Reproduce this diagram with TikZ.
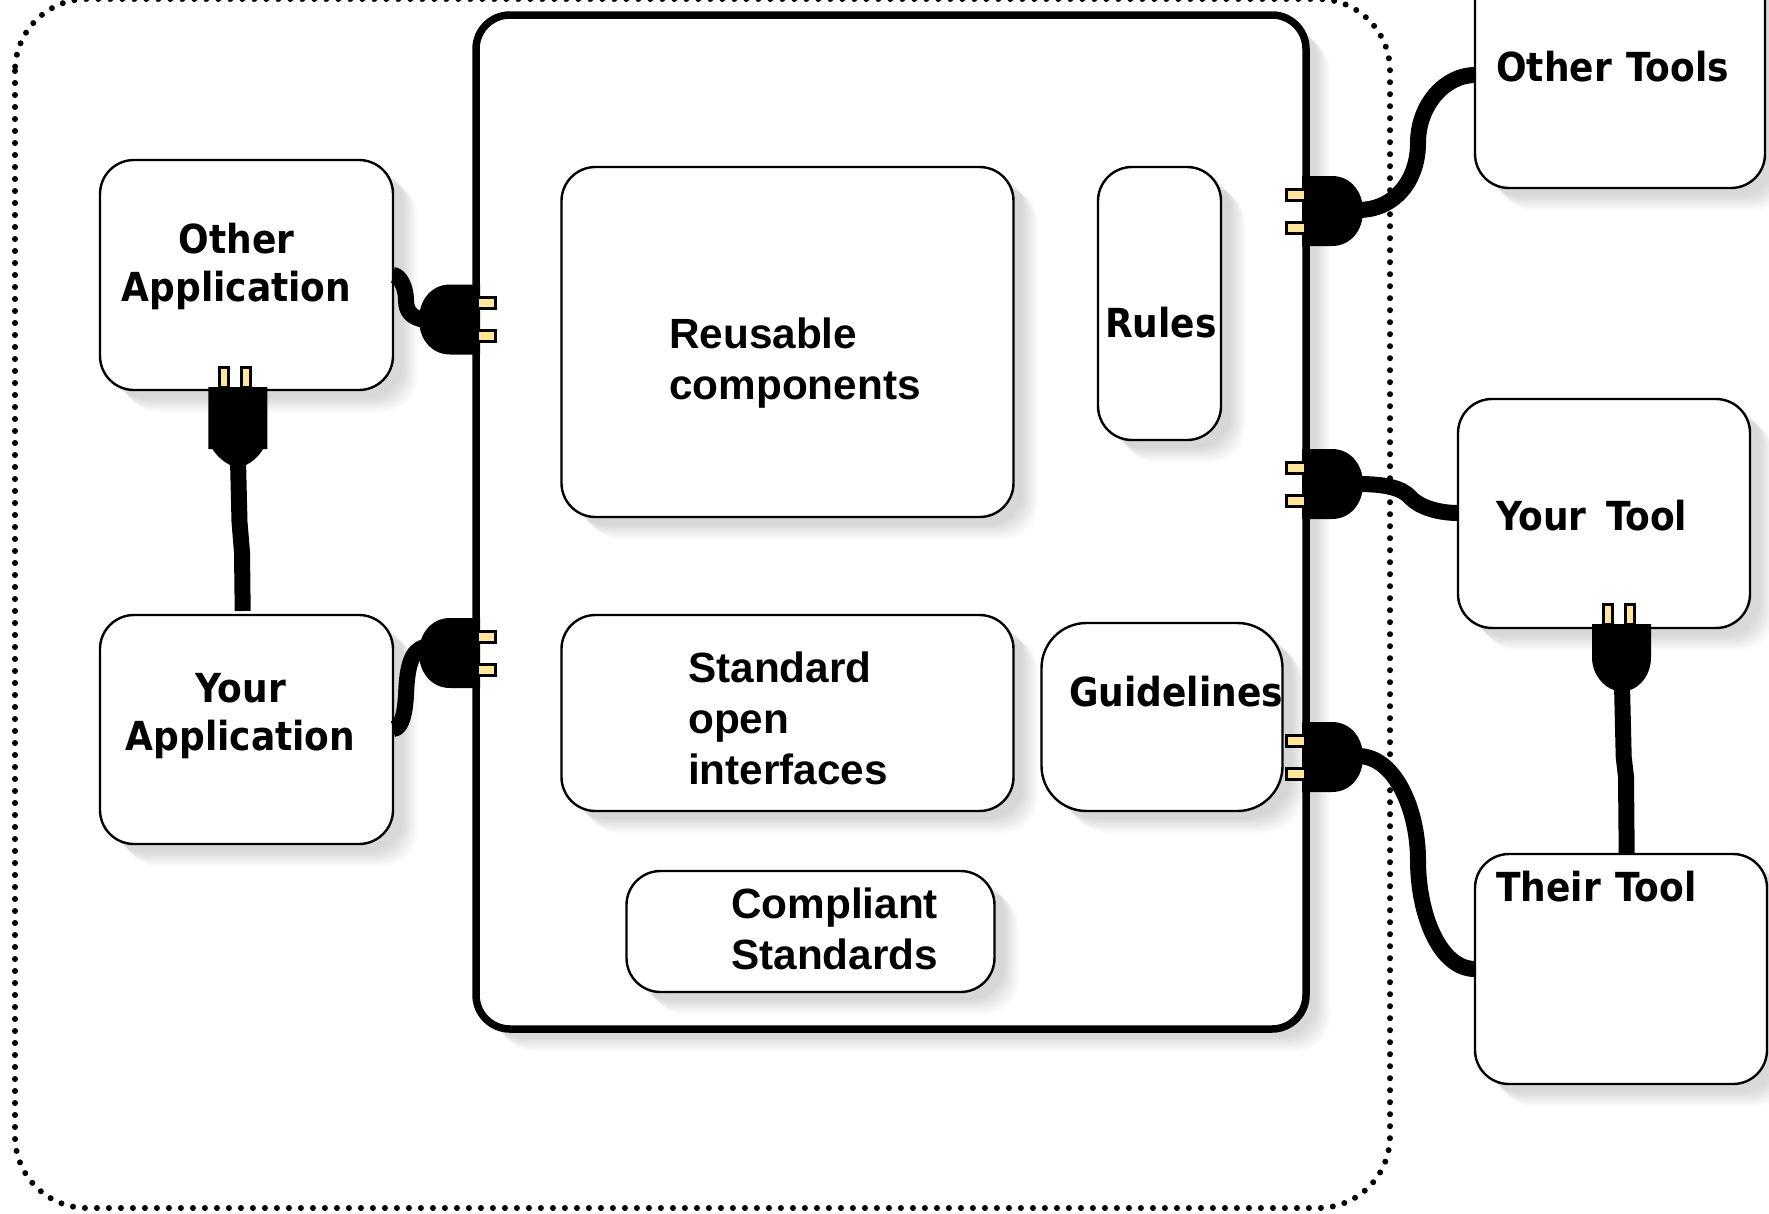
\documentclass[tikz,border=0pt]{standalone}
\usepackage{fontspec}
\setmainfont{Liberation Sans}
\newfontfamily\tahomalike[BoldFont={DejaVu Sans Condensed Bold}]{DejaVu Sans Condensed}
\definecolor{prongc}{HTML}{FFE699}
\tikzset{
  shadowlayer/.style={preaction={fill=black,fill opacity=.02,draw=none,transform canvas={shift={(#1pt,-#1pt+2pt)}}}},
  softshadow/.style={shadowlayer=10,shadowlayer=12,shadowlayer=14,shadowlayer=16,shadowlayer=18,shadowlayer=20,shadowlayer=22,shadowlayer=24},
  cardbox/.style={draw=black,fill=white,line width=2.4pt,rounded corners=34pt,outer sep=0pt,inner sep=0pt,anchor=north west,softshadow},
  cable/.style={draw=black,line width=16pt,line join=round},
  prong/.style={draw=black,fill=prongc,line width=3pt},
  armlabel/.style={font=\fontsize{42.3}{51}\selectfont\bfseries,align=left,anchor=west,inner sep=0pt},
  tahlabel/.style={font=\tahomalike\fontsize{40}{47.5}\selectfont\bfseries,align=center,inner sep=0pt}
}
\newcommand{\sideplug}[3]{% xbase, ycentre, direction(+1 prongs to the right)
  \begin{scope}[shift={(#1,#2)},xscale=#3]
    \fill[black] (2,-35) -- (-28,-35) .. controls (-46,-35) and (-59,-20) .. (-59,0)
      .. controls (-59,20) and (-46,35) .. (-28,35) -- (2,35) -- cycle;
    \filldraw[prong] (-1,-22) rectangle (17.5,-11);
    \filldraw[prong] (-1,11) rectangle (17.5,22);
  \end{scope}}
\begin{document}
\begin{tikzpicture}[x=1pt,y=-1pt]
\useasboundingbox (0,0) rectangle (1769,1213);
% dotted outer boundary
\draw[line width=6pt,line cap=round,dash pattern=on 0pt off 12pt,rounded corners=72pt,black] (15,-1) rectangle (1390,1208);
% nodes
\node[cardbox,minimum width=293pt,minimum height=230pt] (otherapp) at (100,160) {};
\node[cardbox,minimum width=293pt,minimum height=229pt] (yourapp) at (100,615) {};
\node[cardbox,line width=7.5pt,rounded corners=34pt,minimum width=830pt,minimum height=1014pt] (main) at (476,15) {};
\node[cardbox,minimum width=452pt,minimum height=350pt] (reuse) at (561.5,167) {};
\node[cardbox,minimum width=123pt,minimum height=273pt] (rules) at (1098,167) {};
\node[cardbox,minimum width=452pt,minimum height=196pt] (std) at (561.5,615) {};
\node[cardbox,minimum width=241pt,minimum height=188pt,rounded corners=45pt] (guide) at (1041.5,623) {};
\node[cardbox,minimum width=368pt,minimum height=121pt] (comp) at (626.5,871) {};
\node[cardbox,minimum width=290pt,minimum height=230pt] (othertools) at (1475,-42) {};
\node[cardbox,minimum width=292pt,minimum height=229pt] (yourtool) at (1458,399) {};
\node[cardbox,minimum width=292pt,minimum height=230pt] (theirtool) at (1475,854) {};
% plugs
\sideplug{478}{319.5}{1}
\sideplug{478}{653}{1}
\sideplug{1304}{211}{-1}
\sideplug{1304}{484}{-1}
\sideplug{1304}{757}{-1}
% upward plug under Other Application
\fill[black] (208.3,387) -- (267.3,387) -- (267.3,449) -- (263,449)
  .. controls (258,458) and (250,463) .. (246,465) -- (230,465)
  .. controls (226,463) and (218,458) .. (212.5,449) -- (208.3,449) -- cycle;
\filldraw[prong] (219,387) rectangle (228,367.5);
\filldraw[prong] (241.5,387) rectangle (250.5,367.5);
% upward plug under Your Tool
\fill[black] (1592,624) -- (1651,624) -- (1651,657)
  .. controls (1651,675) and (1640,687) .. (1630,690) -- (1614,690)
  .. controls (1604,687) and (1592,675) .. (1592,657) -- cycle;
\filldraw[prong] (1603.5,624) rectangle (1612.5,604.5);
\filldraw[prong] (1625.5,624) rectangle (1634.5,604.5);
% cords
\coordinate (a1) at (otherapp.north east |- 0,275);
\draw[cable] (a1) .. controls (400,275) and (406,288) .. (406,300) .. controls (406,312) and (412,318) .. (425,320);
\coordinate (a2) at (yourapp.north east |- 0,729);
\draw[cable] (a2) .. controls (402,729) and (405,712) .. (406,695) .. controls (407,670) and (410,650) .. (425,647);
\coordinate (t1) at (othertools.north west |- 0,75);
\draw[cable] (1358,210) .. controls (1395,210) and (1418,180) .. (1418,143) .. controls (1418,105) and (1445,75) .. (t1);
\coordinate (t2) at (yourtool.north west |- 0,513);
\draw[cable] (1358,484) .. controls (1385,484) and (1402,488) .. (1410,497) .. controls (1420,508) and (1440,513) .. (t2);
\coordinate (t3) at (theirtool.north west |- 0,969);
\draw[cable] (1358,756) .. controls (1395,756) and (1418,810) .. (1418,860) .. controls (1418,915) and (1440,969) .. (t3);
\coordinate (c1) at (242.7,611);
\draw[cable] (238,460) -- (239.5,522) -- (242,552) -- (c1);
\coordinate (c2) at (theirtool.north west -| 1626.7,0);
\draw[cable] (1622,685) -- (1623.7,757) -- (1626,777) -- (c2);
% labels
\node[tahlabel] (l1) at (236.5,266.5) {Other\\Application};
\node[tahlabel] (l2) at (240.5,716) {Your\\Application};
\node[tahlabel,anchor=west] (l3) at (1496,67) {Other\hspace{2pt} Tools};
\node[tahlabel,anchor=west] (l4) at (1496,516) {Your\hspace{7pt} Tool};
\node[tahlabel,anchor=west] (l5) at (1496,887) {Their\hspace{2pt} Tool};
\node[tahlabel] (l6) at (1161,323) {Rules};
\node[tahlabel,anchor=west] (l7) at (1069,692) {Guidelines};
\node[armlabel] (l8) at (669,363) {Reusable\\components};
\node[armlabel] (l9) at (688,718) {Standard\\open\\interfaces};
\node[armlabel] (l10) at (731,929) {Compliant\\Standards};
\end{tikzpicture}
\end{document}
